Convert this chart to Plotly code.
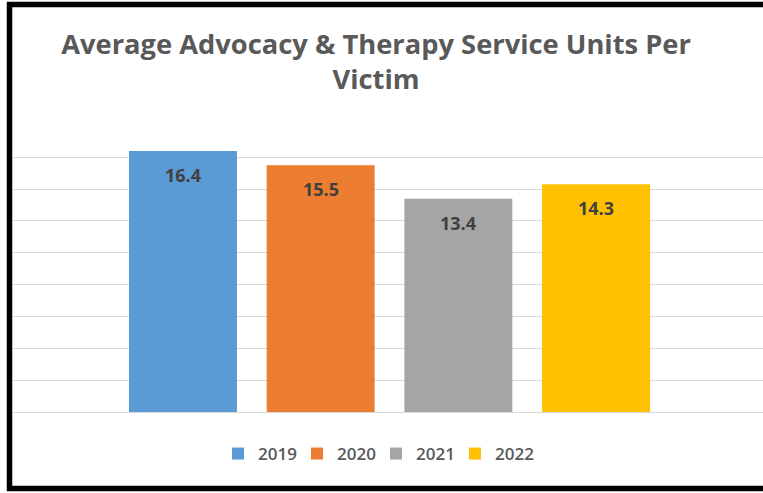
import plotly.graph_objects as go

years = ["2019", "2020", "2021", "2022"]
values = [16.4, 15.5, 13.4, 14.3]
colors = ["#5B9BD5", "#ED7D31", "#A5A5A5", "#FFC000"]
title_text = "Average Advocacy & Therapy Service Units Per<br>Victim"

W, H = 763, 493
L, R, T, B = 13, 0, 125, 81
pw, ph = W - L - R, H - T - B

FONT = "Open Sans, sans-serif"

fig = go.Figure()
for i, (yr, v, c) in enumerate(zip(years, values, colors)):
    fig.add_trace(go.Bar(x=[yr], y=[v], name=yr, marker=dict(color=c, line=dict(width=0)),
                         hoverinfo="skip"))
    fig.add_annotation(x=i, y=v, xref="x", yref="y", text=f"{v:.1f}", showarrow=False,
                       yanchor="middle", yshift=-24,
                       font=dict(family=FONT, size=18, color="#404040", weight="bold"))

def px_x(p):
    return (p - L) / pw

def px_y(p):
    return (H - B - p) / ph

# outer frame (black border on left, top and bottom)
frame = dict(color="black", width=5.5)
fig.add_shape(type="line", xref="paper", yref="paper", x0=px_x(9.5), x1=px_x(9.5),
              y0=px_y(491), y1=px_y(2), line=frame, layer="above")
fig.add_shape(type="line", xref="paper", yref="paper", x0=px_x(7), x1=px_x(763),
              y0=px_y(4.5), y1=px_y(4.5), line=frame, layer="above")
fig.add_shape(type="line", xref="paper", yref="paper", x0=px_x(7), x1=px_x(763),
              y0=px_y(488.5), y1=px_y(488.5), line=frame, layer="above")

fig.update_layout(
    width=W, height=H,
    margin=dict(l=L, r=R, t=T, b=B, pad=0, autoexpand=False),
    paper_bgcolor="white", plot_bgcolor="white",
    barmode="relative", bargap=0.216,
    showlegend=True,
    title=dict(text=title_text, x=376 / W, xref="container", xanchor="center",
               y=1 - 54 / H, yref="container", yanchor="middle",
               font=dict(family=FONT, size=27.3, color="#595959", weight="bold")),
    legend=dict(orientation="h", x=px_x(376), xanchor="center", y=px_y(454), yanchor="middle",
                font=dict(family=FONT, size=17, color="#595959", weight=600),
                itemwidth=30, entrywidth=34, entrywidthmode="pixels",
                traceorder="normal", itemclick=False),
    xaxis=dict(type="category", range=[-1.2345, 4.2125], showticklabels=False,
               showgrid=False, zeroline=False, showline=False, ticks=""),
    yaxis=dict(range=[0, 18.03], dtick=2, showticklabels=False, showgrid=True,
               gridcolor="#D9D9D9", gridwidth=1.3, zeroline=True, zerolinecolor="#D9D9D9",
               zerolinewidth=1.3, showline=False, ticks=""),
)

fig.write_html("out.html", config={"displayModeBar": False},
               post_script="document.body.style.margin='0px';document.body.style.overflow='hidden';")
